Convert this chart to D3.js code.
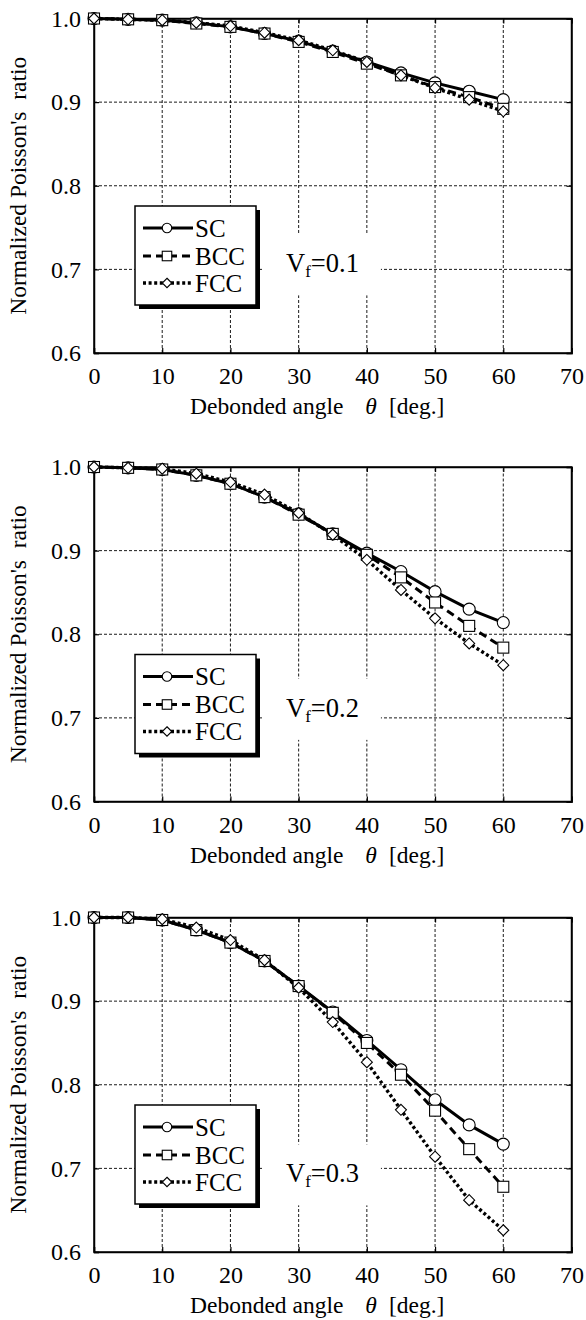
<!DOCTYPE html>
<html><head><meta charset="utf-8">
<script src="https://cdn.jsdelivr.net/npm/d3@7"></script>
<style>body{margin:0;background:#fff}</style></head>
<body>
<svg id="c" width="586" height="1320"></svg>
<script>
// ---- data ----
const angles = [0,5,10,15,20,25,30,35,40,45,50,55,60];
const sc1  = [1.000,0.999,0.998,0.995,0.990,0.982,0.973,0.961,0.948,0.935,0.923,0.913,0.903];
const bcc1 = [1.000,0.999,0.998,0.994,0.990,0.982,0.972,0.960,0.946,0.932,0.918,0.906,0.892];
const fcc1 = [1.000,0.999,0.998,0.995,0.991,0.983,0.974,0.962,0.948,0.932,0.917,0.903,0.889];
const sc2  = [1.000,0.999,0.997,0.990,0.980,0.964,0.944,0.920,0.897,0.875,0.851,0.830,0.814];
const bcc2 = [1.000,0.999,0.997,0.990,0.980,0.964,0.943,0.920,0.895,0.868,0.838,0.810,0.784];
const fcc2 = [1.000,0.999,0.998,0.992,0.982,0.967,0.945,0.919,0.889,0.853,0.819,0.789,0.763];
const sc3  = [1.000,1.000,0.997,0.985,0.970,0.948,0.918,0.887,0.853,0.818,0.782,0.752,0.729];
const bcc3 = [1.000,1.000,0.997,0.985,0.970,0.948,0.918,0.886,0.850,0.812,0.769,0.723,0.678];
const fcc3 = [1.000,1.000,0.998,0.988,0.973,0.949,0.916,0.875,0.827,0.770,0.714,0.662,0.626];
const xTicks = [0,10,20,30,40,50,60,70];
const yTicks = [0.6,0.7,0.8,0.9,1.0];
const seriesNames = ["SC","BCC","FCC"];
const vfValues = ["0.1","0.2","0.3"];
const panelsData = [[sc1,bcc1,fcc1],[sc2,bcc2,fcc2],[sc3,bcc3,fcc3]];

// ---- layout ----
const tops = [18.5, 467, 917.5];
const plotH = 334.5, x0 = 94, x1 = 571.5;
const vfBaseOff = [3, -1, 14];
const FONT = "'Liberation Serif','Times New Roman',serif";
const styles = [
  {dash:null, width:3},
  {dash:"8,5", width:3},
  {dash:"3,2.6", width:3.4}
];
const markerTypes = ["circle","square","diamond"];

const svg = d3.select("#c");

function drawMarker(g, type, cx, cy, size) {
  if (type === "circle") {
    g.append("circle").attr("cx",cx).attr("cy",cy).attr("r",size/2)
      .attr("fill","#fff").attr("stroke","#000").attr("stroke-width",1.1);
  } else if (type === "square") {
    g.append("rect").attr("x",cx-size/2).attr("y",cy-size/2).attr("width",size).attr("height",size)
      .attr("fill","#fff").attr("stroke","#000").attr("stroke-width",1.1);
  } else {
    const h = size/2;
    g.append("path").attr("d",`M${cx},${cy-h}L${cx+h},${cy}L${cx},${cy+h}L${cx-h},${cy}Z`)
      .attr("fill","#fff").attr("stroke","#000").attr("stroke-width",1.1);
  }
}

panelsData.forEach((series, pi) => {
  const top = tops[pi];
  const x = d3.scaleLinear().domain([0,70]).range([x0,x1]);
  const y = d3.scaleLinear().domain([0.6,1.0]).range([top+plotH, top]);
  const g = svg.append("g");

  // grid
  g.append("g").selectAll("line").data(xTicks.filter(t=>t>0&&t<70)).join("line")
    .attr("x1",d=>x(d)).attr("x2",d=>x(d)).attr("y1",y(0.6)).attr("y2",y(1.0))
    .attr("stroke","#000").attr("stroke-width",0.9).attr("stroke-dasharray","3,2");
  g.append("g").selectAll("line").data(yTicks.filter(t=>t>0.61&&t<0.99)).join("line")
    .attr("y1",d=>y(d)).attr("y2",d=>y(d)).attr("x1",x(0)).attr("x2",x(70))
    .attr("stroke","#000").attr("stroke-width",0.9).attr("stroke-dasharray","3,2");

  // Vf label with white mask
  const vfG = g.append("g");
  const maskRect = vfG.append("rect").attr("fill","#fff");
  const vt = vfG.append("text").attr("x",286).attr("y",y(0.7)+vfBaseOff[pi])
    .attr("font-family",FONT).attr("font-size",26.5).attr("fill","#000");
  vt.append("tspan").text("V");
  vt.append("tspan").attr("font-size",17).attr("dy",5).text("f");
  vt.append("tspan").attr("dy",-5).text("=" + vfValues[pi]);
  const bb = vt.node().getBBox();
  maskRect.attr("x",bb.x-22).attr("y",bb.y-14).attr("width",bb.width+44).attr("height",bb.height+28);

  // frame
  g.append("rect").attr("x",x0).attr("y",top).attr("width",x1-x0).attr("height",plotH)
    .attr("fill","none").attr("stroke","#000").attr("stroke-width",1.5);

  // axes
  const ax = g.append("g").attr("transform",`translate(0,${y(0.6)})`)
    .call(d3.axisBottom(x).tickValues(xTicks).tickFormat(d3.format("d")).tickSize(-5).tickPadding(14));
  const ay = g.append("g").attr("transform",`translate(${x0},0)`)
    .call(d3.axisLeft(y).tickValues(yTicks).tickFormat(d3.format(".1f")).tickSize(-5).tickPadding(13));
  const at = g.append("g").attr("transform",`translate(0,${top})`)
    .call(d3.axisTop(x).tickValues(xTicks).tickFormat("").tickSize(-5));
  const ar = g.append("g").attr("transform",`translate(${x1},0)`)
    .call(d3.axisRight(y).tickValues(yTicks).tickFormat("").tickSize(-5));
  [ax,ay,at,ar].forEach(a=>{
    a.select(".domain").attr("stroke-width",1.5);
    a.selectAll(".tick line").attr("stroke-width",1.2);
    a.selectAll("text").attr("font-family",FONT).attr("font-size",24).attr("fill","#000");
  });

  // x title
  const xt = g.append("text").attr("x",190).attr("y",y(0.6)+61)
    .attr("font-family",FONT).attr("font-size",23.5).attr("fill","#000");
  xt.append("tspan").text("Debonded angle");
  xt.append("tspan").attr("dx",22).attr("font-style","italic").text("θ");
  xt.append("tspan").attr("dx",12).text("[deg.]");

  // y title
  g.append("text").attr("transform",`translate(26,${top+plotH/2}) rotate(-90)`)
    .attr("text-anchor","middle").attr("font-family",FONT).attr("font-size",23.5)
    .attr("fill","#000").attr("xml:space","preserve").style("white-space","pre")
    .text("Normalized Poisson's  ratio");

  // lines
  const line = d3.line().x((d,i)=>x(angles[i])).y(d=>y(d));
  series.forEach((vals, si) => {
    g.append("path").datum(vals).attr("d",line).attr("fill","none")
      .attr("stroke","#000").attr("stroke-width",styles[si].width)
      .attr("stroke-dasharray",styles[si].dash);
  });
  // markers
  const sizes = [12,11,11];
  series.forEach((vals, si) => {
    const mg = g.append("g");
    vals.forEach((v,i)=>drawMarker(mg, markerTypes[si], x(angles[i]), y(v), sizes[si]));
  });

  // legend
  const lg = g.append("g").attr("transform",`translate(135,${top+187.5})`);
  lg.append("rect").attr("x",4).attr("y",4).attr("width",121).attr("height",99).attr("fill","#000");
  lg.append("rect").attr("x",0).attr("y",0).attr("width",121).attr("height",99)
    .attr("fill","#fff").attr("stroke","#000").attr("stroke-width",1.5);
  const rows = [22,50,77];
  seriesNames.forEach((name, si) => {
    const ry = rows[si];
    lg.append("line").attr("x1",8).attr("x2",58).attr("y1",ry).attr("y2",ry)
      .attr("stroke","#000").attr("stroke-width",styles[si].width)
      .attr("stroke-dasharray",styles[si].dash);
    drawMarker(lg, markerTypes[si], 32, ry, 9.5);
    lg.append("text").attr("x",60).attr("y",ry+8.5).attr("font-family",FONT)
      .attr("font-size",25).attr("fill","#000").text(name);
  });
});
</script>
</body></html>
